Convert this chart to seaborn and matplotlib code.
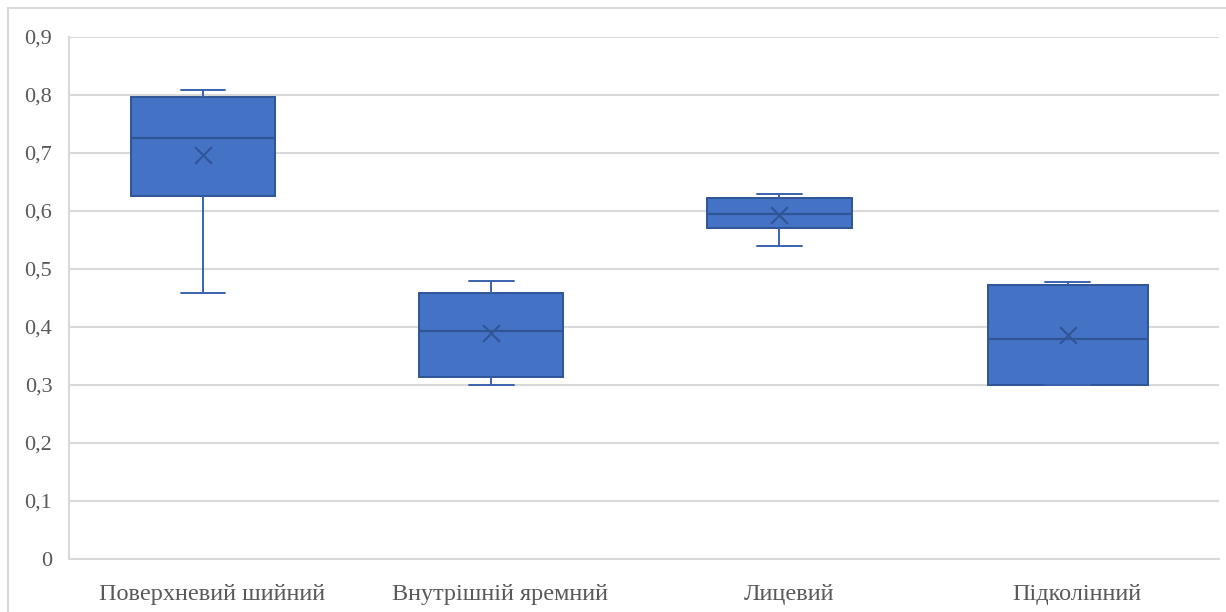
import numpy as np
import pandas as pd
import matplotlib
matplotlib.use("Agg")
import matplotlib.pyplot as plt
from matplotlib.patches import Rectangle
from matplotlib.ticker import FuncFormatter, MultipleLocator
from matplotlib.transforms import ScaledTranslation
import seaborn as sns

# Five-number summaries and means per vein
categories = ["Поверхневий шийний", "Внутрішній яремний", "Лицевий", "Підколінний"]
mins    = [0.459, 0.300, 0.540, 0.300]
q1s     = [0.626, 0.314, 0.571, 0.300]
medians = [0.726, 0.393, 0.595, 0.379]
q3s     = [0.797, 0.459, 0.622, 0.472]
maxs    = [0.809, 0.479, 0.629, 0.477]
means   = [0.697, 0.390, 0.593, 0.386]

# Long table: each summary value as one observation, so the quartiles land exactly on them
rows = []
for c, a, b, m, d, e in zip(categories, mins, q1s, medians, q3s, maxs):
    for v in (a, b, m, d, e):
        rows.append({"cat": c, "val": v})
df = pd.DataFrame(rows)
mean_df = pd.DataFrame({"cat": categories, "val": means})

sns.set_theme(style="white")
plt.rcParams["font.family"] = ["Liberation Serif", "DejaVu Serif"]

fill = "#4472C4"
edge = "#2F5597"
grid = "#D9D9D9"
text = "#595959"

fig = plt.figure(figsize=(12.26, 6.12), dpi=100)
ax = fig.add_axes([69 / 1226, 1 - 559 / 612, (1219 - 69) / 1226, (559 - 37) / 612])

widths = [0.5, 0.5, 0.5, 0.555]
for c, w in zip(categories, widths):
    sns.boxplot(
        data=df[df["cat"] == c], x="cat", y="val", order=categories,
        width=w, whis=np.inf, color=fill, saturation=1, linecolor=edge,
        linewidth=1.4, showfliers=False, capwidths=0.155, ax=ax,
        boxprops={"facecolor": fill, "edgecolor": edge},
        whiskerprops={"color": "#3A62AE"},
        capprops={"color": "#3A62AE"},
        medianprops={"color": edge, "linewidth": 1.6},
    )

sns.stripplot(
    data=mean_df, x="cat", y="val", order=categories, jitter=False,
    marker="x", size=12, linewidth=1.5, color=edge, ax=ax, zorder=5,
)

ax.set_ylim(0, 0.9)
ax.set_xlim(-0.465, 3.525)
ax.yaxis.set_major_locator(MultipleLocator(0.1))
ax.yaxis.set_major_formatter(
    FuncFormatter(lambda v, p: "0" if abs(v) < 1e-9 else f"{v:.1f}".replace(".", ","))
)
ax.grid(axis="y", color=grid, linewidth=1.5)
ax.set_axisbelow(True)
ax.set_xlabel("")
ax.set_ylabel("")
for s in ("top", "right"):
    ax.spines[s].set_visible(False)
for s in ("left", "bottom"):
    ax.spines[s].set_color(grid)
    ax.spines[s].set_linewidth(1.5)
ax.tick_params(axis="y", length=0, pad=12, labelsize=16, labelcolor=text)
ax.tick_params(axis="x", length=0, pad=18, labelsize=17.5, labelcolor=text)

# Category labels sit slightly right of the box centres
shift = ScaledTranslation(9 / 100, 0, fig.dpi_scale_trans)
for lbl in ax.get_xticklabels():
    lbl.set_transform(lbl.get_transform() + shift)

# Chart-area border
fig.patches.append(Rectangle((8 / 1226, -0.1), 1.2, 1 - 8 / 612 + 0.1,
                             transform=fig.transFigure, fill=False,
                             edgecolor=grid, linewidth=1.5))

fig.savefig("out.png", dpi=100)
